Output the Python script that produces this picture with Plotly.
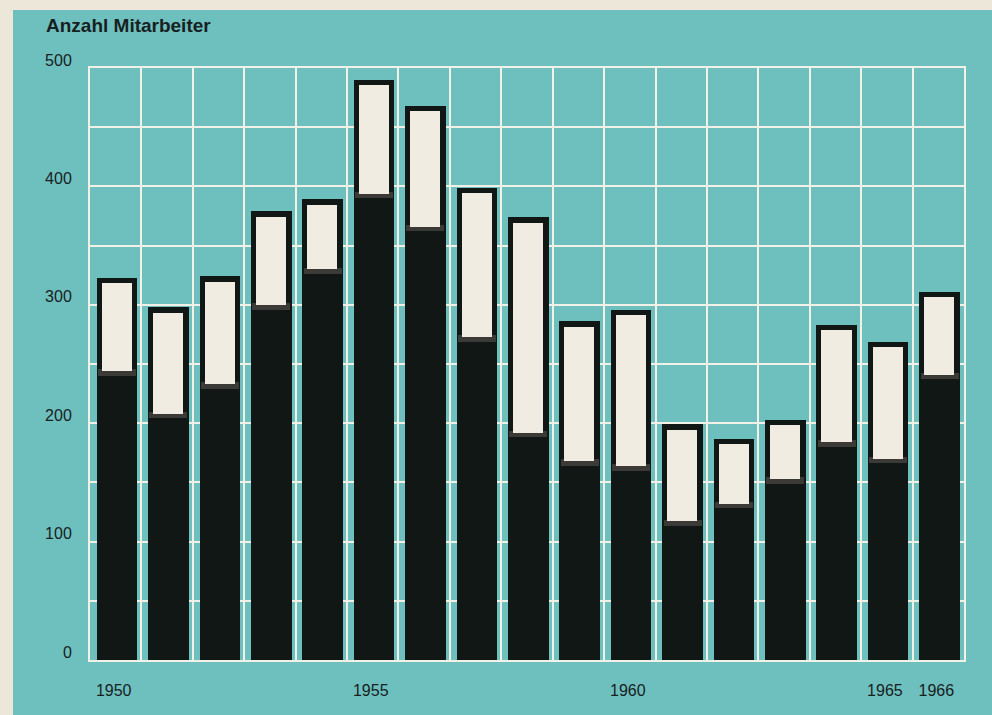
import plotly.graph_objects as go

# ---- data ----
years = list(range(1950, 1967))
total = [323, 298, 324, 379, 389, 490, 468, 399, 374, 286, 296, 199, 187, 203, 283, 269, 311]
lower = [240, 204, 229, 296, 326, 390, 362, 269, 188, 164, 160, 113, 128, 149, 180, 166, 237]
x_tick_years = [1950, 1955, 1960, 1965, 1966]
y_tick_vals = [0, 100, 200, 300, 400, 500]
title_text = "Anzahl Mitarbeiter"

# ---- styles ----
TEAL = "#6ec0be"
PAGE = "#ede7da"
CREAM = "#f1ece2"
BLACK = "#101715"
BAND = "#3b3a37"
GRID = "#f2f1e8"
TEXT = "#17211f"
FONT = "Liberation Sans"

W, H = 992, 715
ML, MR, MT, MB = 90, 28, 68, 55
pw, ph = W - ML - MR, H - MT - MB

border_top = 4.5   # in value-axis units (~5 px)
band_h = 4.0

fig = go.Figure()

# full bar (black)
fig.add_trace(go.Bar(x=years, y=total, width=0.79, offset=-0.37,
                     marker=dict(color=BLACK, line=dict(width=0)),
                     name="Gesamt", hoverinfo="x+y"))
# dark band at the bottom of the light box
fig.add_trace(go.Bar(x=years, y=[band_h + 1.5] * len(years), base=lower, width=0.74, offset=-0.345,
                     marker=dict(color=BAND, line=dict(width=0)), hoverinfo="skip", name="band"))
# light box (difference)
cream_base = [lo + band_h for lo in lower]
cream_h = [t - border_top - b for t, b in zip(total, cream_base)]
fig.add_trace(go.Bar(x=years, y=cream_h, base=cream_base, width=0.585, offset=-0.2725,
                     marker=dict(color=CREAM, line=dict(width=0)), name="Differenz",
                     customdata=[t - lo for t, lo in zip(total, lower)],
                     hovertemplate="%{x}: %{customdata}<extra></extra>"))


def px_x(p):
    return (p - ML) / pw


def px_y(p):
    return (H - MB - p) / ph


shapes = [
    # page margins outside the teal panel
    dict(type="rect", xref="paper", yref="paper", layer="below",
         x0=px_x(0), x1=px_x(13), y0=px_y(H), y1=px_y(0), fillcolor=PAGE, line=dict(width=0)),
    dict(type="rect", xref="paper", yref="paper", layer="below",
         x0=px_x(0), x1=px_x(W), y0=px_y(10), y1=px_y(0), fillcolor=PAGE, line=dict(width=0)),
]

fig.update_layout(
    width=W, height=H,
    margin=dict(l=ML, r=MR, t=MT, b=MB),
    paper_bgcolor=TEAL, plot_bgcolor=TEAL,
    barmode="overlay", bargap=0,
    showlegend=False,
    font=dict(family=FONT, color=TEXT, size=16),
    shapes=shapes,
    annotations=[dict(text="<b>" + title_text + "</b>", xref="paper", yref="paper",
                      x=px_x(44), y=px_y(25), xanchor="left", yanchor="middle",
                      showarrow=False, font=dict(size=19, color=TEXT, family=FONT))],
)

fig.update_xaxes(
    range=[1949.5, 1966.5], tickmode="array", tickvals=x_tick_years,
    ticktext=[str(v) for v in x_tick_years],
    showgrid=False, zeroline=False, ticks="", ticklabelstandoff=15, ticklabelshift=-2,
    showline=True, mirror=True, linecolor=GRID, linewidth=2,
    minor=dict(tickmode="linear", tick0=1949.5, dtick=1, showgrid=True, gridcolor=GRID, gridwidth=2, ticks=""),
    tickfont=dict(size=16, color=TEXT),
)
fig.update_yaxes(
    range=[0, 500], tickmode="array", tickvals=y_tick_vals,
    showgrid=True, gridcolor=GRID, gridwidth=2, zeroline=False, ticks="",
    ticklabelstandoff=13, ticklabelshift=-8,
    showline=True, mirror=True, linecolor=GRID, linewidth=2,
    minor=dict(tickmode="linear", tick0=0, dtick=50, showgrid=True, gridcolor=GRID, gridwidth=2, ticks=""),
    tickfont=dict(size=16, color=TEXT),
)

fig.write_html("out.html", config={"displayModeBar": False},
               post_script="document.body.style.margin='0';document.body.style.padding='0';")
